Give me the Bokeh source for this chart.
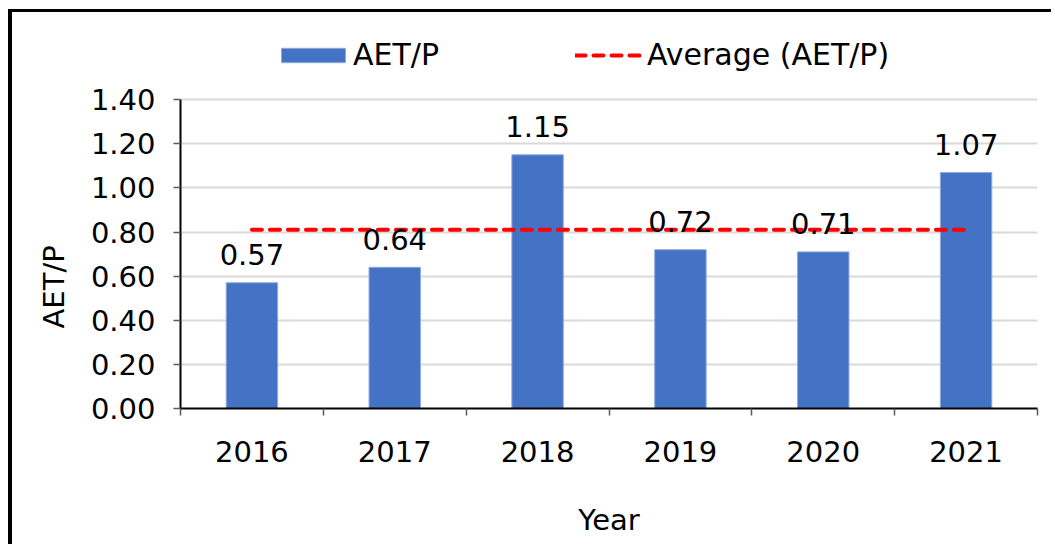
from bokeh.plotting import figure
from bokeh.models import (ColumnDataSource, FixedTicker, Legend, LegendItem,
                          PrintfTickFormatter, Range1d, Title)
from bokeh.core.properties import value
from bokeh.embed import file_html
from bokeh.resources import INLINE

years = ["2016", "2017", "2018", "2019", "2020", "2021"]
aet_p = [0.57, 0.64, 1.15, 0.72, 0.71, 1.07]
avg_aet_p = 0.81
y_ticks = [0.0, 0.2, 0.4, 0.6, 0.8, 1.0, 1.2, 1.4]

FONT = "DejaVu Sans"
FS = "29px"

xs = [i + 0.5 for i in range(len(years))]
labels = ["%.2f" % v for v in aet_p]
src = ColumnDataSource(dict(x=xs, y=aet_p, lab=labels))

# y range extends above the last tick so the legend sits inside the frame
p = figure(width=1043, height=535, output_backend="svg", toolbar_location=None,
           x_range=Range1d(0, len(years)), y_range=Range1d(0, 1.7),
           min_border_left=168, min_border_right=18, min_border_top=21,
           min_border_bottom=139)
p.styles = {"border-left": "4px solid black", "border-top": "3px solid black",
            "margin-left": "8px", "margin-top": "9px"}
p.outline_line_color = None
p.background_fill_color = "white"
p.border_fill_color = "white"

bars = p.vbar(x="x", top="y", width=0.36, bottom=0, source=src,
              fill_color="#4472C4", line_color="#8FAADC", line_width=1)
avg_line = p.line(x=[xs[0], xs[-1]], y=[avg_aet_p, avg_aet_p], line_color="#FF0000",
                  line_width=4, line_dash="10 8", line_cap="round")

p.text(x="x", y="y", text="lab", source=src, text_align="center",
       text_baseline="alphabetic", y_offset=-28, text_font=value(FONT),
       text_font_size=FS, text_color="black")

# grid
p.xgrid.visible = False
p.ygrid.ticker = FixedTicker(ticks=y_ticks)
p.ygrid.grid_line_color = "#D9D9D9"
p.ygrid.grid_line_width = 2
p.ygrid.level = "underlay"

# y axis
ya = p.yaxis[0]
ya.bounds = (y_ticks[0], y_ticks[-1])
ya.ticker = FixedTicker(ticks=y_ticks)
ya.formatter = PrintfTickFormatter(format="%.2f")
ya.axis_line_color = "black"
ya.axis_line_width = 2
ya.major_tick_out = 7
ya.major_tick_in = 0
ya.major_tick_line_color = "#595959"
ya.major_tick_line_width = 1.5
ya.minor_tick_line_color = None
ya.major_label_standoff = 18
ya.major_label_text_font = FONT
ya.major_label_text_font_size = FS
ya.major_label_text_color = "black"

# y axis title as a left-side title so it can be shifted along the axis
ytitle = Title(text="AET/P", align="left", offset=80, standoff=30,
               vertical_align="top",
               text_font=FONT, text_font_size=FS, text_font_style="normal",
               text_color="black")
p.add_layout(ytitle, "left")

# x axis
xa = p.xaxis[0]
xa.ticker = FixedTicker(ticks=xs, minor_ticks=list(range(len(years) + 1)))
xa.major_label_overrides = {x: y for x, y in zip(xs, years)}
xa.axis_line_color = "black"
xa.axis_line_width = 2
xa.major_tick_line_color = None
xa.major_tick_out = 0
xa.major_tick_in = 0
xa.minor_tick_out = 7
xa.minor_tick_in = 0
xa.minor_tick_line_color = "#595959"
xa.minor_tick_line_width = 1.5
xa.major_label_standoff = 25
xa.major_label_text_font = FONT
xa.major_label_text_font_size = FS
xa.major_label_text_color = "black"
xa.axis_label = "Year"
xa.axis_label_text_font = FONT
xa.axis_label_text_font_size = FS
xa.axis_label_text_font_style = "normal"
xa.axis_label_text_color = "black"
xa.axis_label_standoff = 38


def make_legend(item, x, gw, gh, standoff):
    return Legend(items=[item], location=(x, 336), orientation="horizontal",
                  padding=0, margin=0, border_line_color=None,
                  background_fill_alpha=0, label_text_font=FONT,
                  label_text_font_size="30px", label_text_color="black",
                  glyph_width=gw, glyph_height=gh, label_standoff=standoff)


p.add_layout(make_legend(LegendItem(label="AET/P", renderers=[bars]), 93, 80, 18, 0))
p.add_layout(make_legend(LegendItem(label="Average (AET/P)", renderers=[avg_line]),
                         395, 68, 18, 4))

open("out.html", "w").write(file_html(p, INLINE))
